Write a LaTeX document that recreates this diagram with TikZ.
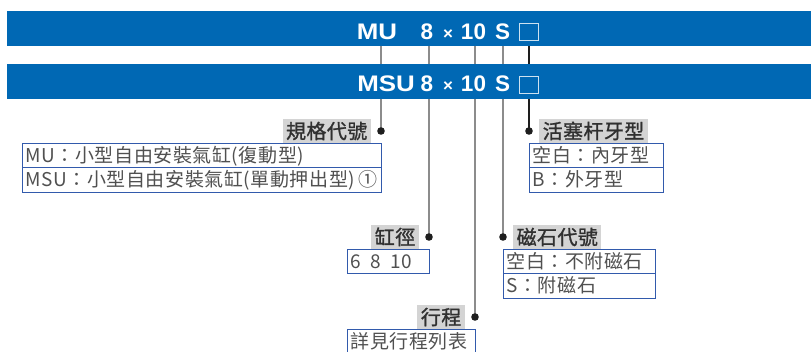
\documentclass[tikz,border=0pt]{standalone}
\usepackage{fontspec}
\usepackage{tikz}
\usetikzlibrary{positioning}
\newfontfamily\cjk[LetterSpace=3]{Noto Sans CJK TC}
\newfontfamily\cjktag[FakeBold=1.2,LetterSpace=2]{Noto Sans CJK TC}
\newfontfamily\bandfont{Liberation Sans}
\definecolor{bandblue}{RGB}{0,104,180}
\definecolor{taggray}{RGB}{212,212,212}
\definecolor{tagtext}{RGB}{48,48,48}
\definecolor{cellblue}{RGB}{50,90,172}
\definecolor{celltext}{RGB}{80,80,80}
\definecolor{leadgray}{RGB}{140,140,140}
\definecolor{dotblack}{RGB}{30,30,30}

\begin{document}
\begin{tikzpicture}[x=1pt,y=-1pt,
	band/.style={fill=bandblue,inner sep=0pt,outer sep=0pt,anchor=north west,minimum width=804pt},
	code/.style={text=white,font=\bandfont\bfseries\fontsize{22.5}{22}\selectfont,inner sep=0pt,anchor=base},
	blank/.style={draw=white!80!bandblue,line width=0.8pt,inner sep=0pt,minimum width=19pt,minimum height=17pt},
	lead/.style={leadgray,line width=1.2pt},
	tag/.style={fill=taggray,text=tagtext,font=\cjktag\fontsize{20}{20}\selectfont,inner xsep=3.5pt,inner ysep=0pt,minimum height=23.5pt,text height=17.6pt,text depth=2.4pt},
	cell/.style={draw=cellblue,line width=1pt,outer sep=0pt,text=celltext,font=\cjk\fontsize{19}{19}\selectfont,inner xsep=3.5pt,inner ysep=0pt,minimum height=24.5pt,text height=16.7pt,text depth=2.3pt,align=left}]
				\useasboundingbox (0,0) rectangle (811,351);
				\node[band,minimum height=34.5pt] (top) at (7,11) {};
				\coordinate (dA) at (381,131);
				\coordinate (dB) at (429,237);
				\coordinate (dC) at (475,317);
				\coordinate (dD) at (503,237);
				\coordinate (dE) at (529,131);
				\draw[lead] (dA |- top.south) -- (dA);
				\draw[lead] (dB |- top.south) -- (dB);
				\draw[lead] (dC |- top.south) -- (dC);
				\draw[lead] (dD |- top.south) -- (dD);
				\draw[lead,dotblack] (dE |- top.south) -- (dE);
				\node[band,minimum height=35pt] (bottom) at (7,64) {};
				\node[code] (mu) at (377,39) {\scalebox{1.15}[1]{MU}};
				\node[code] (bore1) at (427,39) {8};
				\node[code,font=\bandfont\bfseries\fontsize{17}{17}\selectfont] (times1) at (448,39) {×};
				\node[code] (stroke1) at (473.5,39) {10};
				\node[code] (mag1) at (502.5,39) {S};
				\node[blank] (rod1) at (528.5,31.5) {};
				\node[code] (msu) at (386,91.7) {\scalebox{1.15}[1]{MSU}};
				\node[code] (bore2) at (427,91.7) {8};
				\node[code,font=\bandfont\bfseries\fontsize{17}{17}\selectfont] (times2) at (448,91.7) {×};
				\node[code] (stroke2) at (473.5,91.7) {10};
				\node[code] (mag2) at (502.5,91.7) {S};
				\node[blank] (rod2) at (528.5,84.5) {};
				\foreach \d in {dA,dB,dC,dD,dE}
					\fill[dotblack] (\d) circle (3.8);
				\node[tag,left=10pt of dA] (tA) {規格代號};
				\node[cell,text width=352pt,below left=12pt and 0pt of dA] (a1) {MU：小型自由安裝氣缸(復動型)};
				\node[cell,text width=352pt,below=0pt of a1] (a2) {MSU：小型自由安裝氣缸(單動押出型)\hfill ①};
				\node[tag,right=10pt of dE] (tE) {活塞杆牙型};
				\node[cell,text width=127pt,below right=12pt and 0pt of dE] (e1) {空白：內牙型};
				\node[cell,text width=127pt,below=0pt of e1] (e2) {B：外牙型};
				\node[tag,left=10pt of dB] (tB) {缸徑};
				\node[cell,text width=75pt,below left=12pt and 0pt of dB] (b1) {6\enspace 8\enspace 10};
				\node[tag,right=10pt of dD] (tD) {磁石代號};
				\node[cell,text width=145pt,below right=12pt and 0pt of dD] (d1) {空白：不附磁石};
				\node[cell,text width=145pt,below=0pt of d1] (d2) {S：附磁石};
				\node[tag,left=10pt of dC] (tC) {行程};
				\node[cell,text width=121pt,below left=12pt and 0pt of dC] (c1) {詳見行程列表};
\end{tikzpicture}
\end{document}
